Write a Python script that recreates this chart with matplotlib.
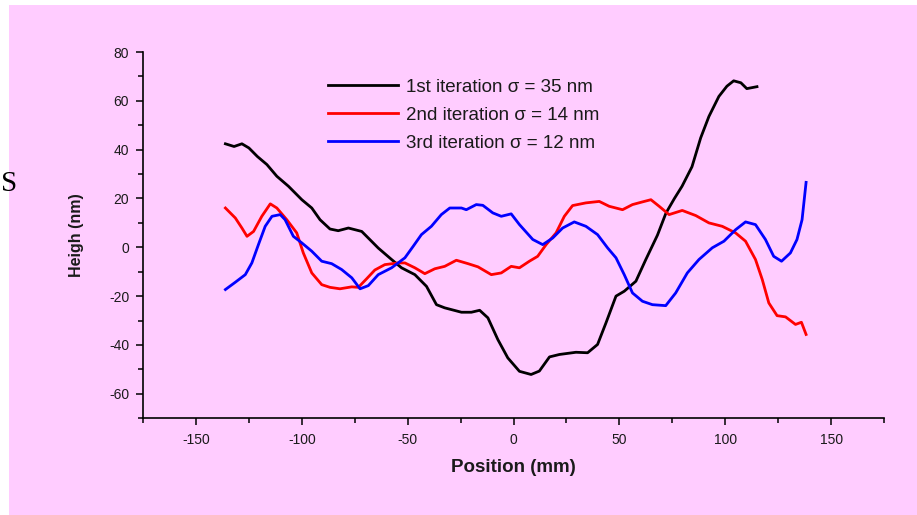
import matplotlib
matplotlib.use("Agg")
import matplotlib.pyplot as plt
from matplotlib.patches import Rectangle
from matplotlib.ticker import MultipleLocator

# 1st iteration (sigma = 35 nm)
x_first = [-136.1, -132, -128.3, -125, -121, -116.5, -111.8, -106.3, -100, -95.3,
           -91.4, -86.7, -82.8, -78, -71.7, -66.3, -63.9, -57.6, -52.9, -46.6,
           -41.1, -36.4, -32.5, -24.6, -19.9, -16, -12.1, -7.4, -2.7, 2.8,
           8.3, 12.2, 17, 21.7, 29.5, 35, 39.7, 43.7, 48.4, 52.3,
           57.8, 62.5, 68, 72, 76, 79.6, 84.3, 88.4, 92.3, 97,
           100.8, 104, 107.4, 110.2, 115]
y_first = [42.4, 41.3, 42.4, 40.7, 37.2, 33.9, 29.1, 25, 19.5, 16.1,
           11.3, 7.5, 6.8, 7.9, 6.5, 1.8, -0.3, -5, -8.4, -11.2,
           -16, -23.5, -24.8, -26.6, -26.6, -25.8, -28.9, -37.8, -45.3, -50.8,
           -52.1, -50.7, -44.9, -43.9, -43, -43.2, -39.8, -30.9, -20, -18,
           -13.9, -5, 5, 14, 20, 25, 33, 44.8, 53.6, 61.8,
           66, 68.2, 67.4, 65, 65.8]

# 2nd iteration (sigma = 14 nm)
x_second = [-136.1, -131.4, -128.3, -125.9, -122.8, -118.9, -114.9, -111.8, -107.1, -102.4,
            -99.3, -95.3, -90.6, -86.7, -82, -76.4, -73.3, -69.4, -65.5, -60.8,
            -54.5, -51.3, -46.6, -41.9, -37.2, -32.5, -27, -21.5, -16.8, -10.5,
            -5.8, -1.1, 2.8, 7.5, 11.4, 15.4, 20.1, 24, 27.9, 34.2,
            40.5, 45.2, 51.5, 56.2, 60.9, 64.9, 68.8, 73.5, 79.7, 86.1,
            92.3, 98.6, 104.9, 109.6, 114.3, 117.5, 120.6, 124.5, 128.5, 133.2,
            136, 138.2]
y_second = [16.1, 12, 7.9, 4.5, 6.5, 12.7, 17.8, 16.1, 11.3, 5.9,
            -2.3, -10.5, -15.3, -16.4, -17, -16.2, -16.4, -12.9, -9.3, -7.1,
            -6.4, -6.4, -8.4, -10.8, -8.8, -7.8, -5.3, -6.7, -8, -11.2,
            -10.5, -7.8, -8.4, -5.7, -3.7, 1.1, 5.9, 12.7, 17.1, 18.2,
            18.8, 16.8, 15.4, 17.5, 18.6, 19.5, 16.8, 13.4, 15.1, 13,
            10, 8.6, 5.9, 2.5, -5, -13.2, -22.8, -28, -28.5, -31.6,
            -30.7, -35.7]

# 3rd iteration (sigma = 12 nm)
x_third = [-136.1, -131.4, -126.7, -123.6, -120.5, -117.3, -114.1, -110.2, -107.9, -104,
           -100, -95.3, -90.6, -85.9, -81.2, -76.4, -72.5, -68.6, -63.9, -57.6,
           -51.3, -47.4, -43.5, -38.8, -34.1, -30.1, -24.6, -22.3, -17.6, -14.5,
           -9.8, -5.8, -1.1, 2.8, 9.1, 13.8, 18.5, 23.2, 28.7, 34.2,
           39.7, 44.4, 48.4, 52.3, 56.2, 60.9, 65.6, 71.9, 76.6, 82.1,
           87.6, 93.9, 99.4, 104.9, 109.6, 114.3, 119, 122.9, 126.6, 130.8,
           133.9, 136.3, 138.2]
y_third = [-17.3, -14.3, -11.2, -6.4, 1.1, 8.6, 12.7, 13.4, 11.3, 4.5,
           1.8, -1.6, -5.7, -6.7, -9.1, -12.5, -17, -15.7, -11.2, -8.4,
           -4.3, 0.4, 5.2, 8.6, 13.4, 16.1, 16.1, 15.4, 17.5, 17.2,
           14.1, 12.7, 13.7, 9.3, 3.2, 1.1, 3.8, 7.9, 10.4, 8.6,
           5.2, -0.2, -4.3, -11.2, -18.7, -22.1, -23.5, -23.9, -18.7, -10.5,
           -5, -0.2, 2.5, 7.2, 10.4, 9.3, 3.2, -3.7, -5.7, -2.3,
           3.2, 11.3, 26.6]

labels = ["1st iteration \u03c3 = 35 nm",
          "2nd iteration \u03c3 = 14 nm",
          "3rd iteration \u03c3 = 12 nm"]

plt.rcParams['font.family'] = ['Liberation Sans', 'DejaVu Sans']
plt.rcParams['axes.unicode_minus'] = False
pink = '#FFCCFF'
ink = '#1a1a1a'

fig = plt.figure(figsize=(9.17, 5.15), dpi=100, facecolor='white')
# pink panel with a thin white margin on the left and top
fig.patches.append(Rectangle((9 / 917, 0), 1, 1 - 5 / 515, transform=fig.transFigure,
                             facecolor=pink, edgecolor='none', zorder=-10))

ax = fig.add_axes([0.156, 0.188, 0.808, 0.711])
ax.set_facecolor('none')

ax.plot(x_first, y_first, color='black', lw=2, label=labels[0])
ax.plot(x_second, y_second, color='#ff0000', lw=2, label=labels[1])
ax.plot(x_third, y_third, color='#0000ff', lw=2, label=labels[2])

ax.set_xlim(-175, 175)
ax.set_ylim(-70, 80)
ax.xaxis.set_major_locator(MultipleLocator(50))
ax.xaxis.set_minor_locator(MultipleLocator(25))
ax.yaxis.set_major_locator(MultipleLocator(20))
ax.yaxis.set_minor_locator(MultipleLocator(10))

for side in ['top', 'right']:
    ax.spines[side].set_visible(False)
for side in ['left', 'bottom']:
    ax.spines[side].set_linewidth(1.2)
    ax.spines[side].set_color('black')

ax.tick_params(which='major', direction='out', length=5, width=1.1,
               labelsize=10, labelcolor=ink)
ax.tick_params(which='minor', direction='out', length=3.5, width=1.1)
ax.tick_params(axis='x', pad=6)
ax.tick_params(axis='y', pad=5)

ax.set_xlabel('Position (mm)', fontsize=13.5, fontweight='bold', color=ink, labelpad=8)
ax.set_ylabel('Heigh (nm)', fontsize=11.5, fontweight='bold', color=ink, labelpad=18)

leg = ax.legend(loc='upper left', bbox_to_anchor=(0.25, 0.928), frameon=False,
                fontsize=13.5, handlelength=3.7, handletextpad=0.45,
                labelspacing=0.58, borderpad=0, borderaxespad=0)
for t in leg.get_texts():
    t.set_color(ink)

fig.text(9 / 917, 1 - 184 / 515, 'S', family='Liberation Serif', fontsize=21,
         ha='center', va='center', color='black')

fig.savefig('out.png', dpi=100, facecolor='white')
